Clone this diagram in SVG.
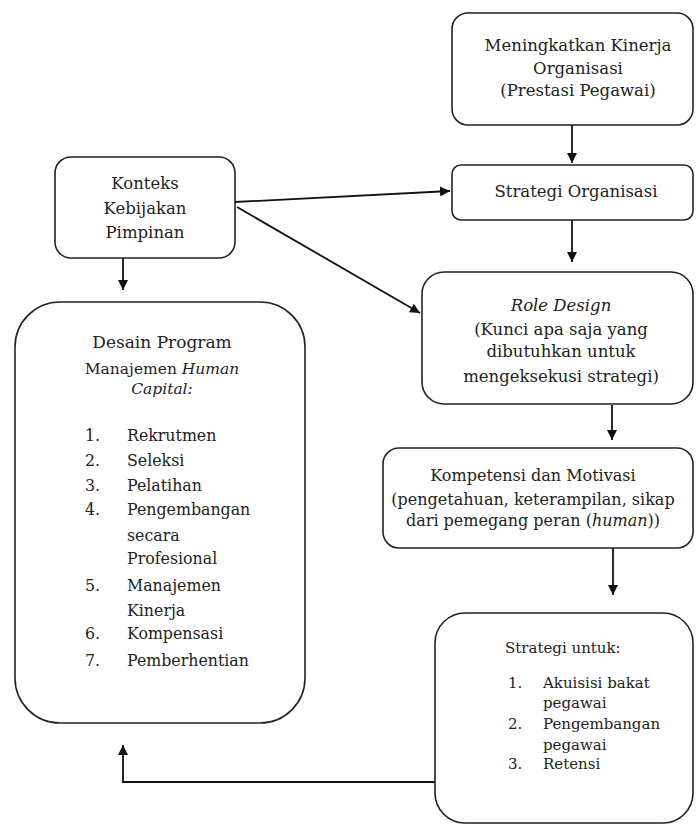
<svg xmlns="http://www.w3.org/2000/svg" width="698" height="825" viewBox="0 0 698 825">
<defs>
<marker id="ah" viewBox="0 0 10 10" refX="10" refY="5" markerWidth="10" markerHeight="10" markerUnits="userSpaceOnUse" orient="auto">
<path d="M0,0 L10,5 L0,10 z" fill="#111"/>
</marker>
<style>
.box{fill:#fff;stroke:#222;stroke-width:1.6}
.t{font-family:"DejaVu Serif","Liberation Serif",serif;font-size:16.5px;fill:#222;text-anchor:middle}
.l{font-family:"DejaVu Serif","Liberation Serif",serif;font-size:15px;fill:#222}
.i{font-style:italic}
.c{fill:none;stroke:#111;stroke-width:1.8}
</style>
</defs>
<rect width="698" height="825" fill="#fff"/>
<g id="connectors">
<path class="c" d="M572,125 V163" marker-end="url(#ah)"/>
<path class="c" d="M235,202 L450,191" marker-end="url(#ah)"/>
<path class="c" d="M237,207 L420,313" marker-end="url(#ah)"/>
<path class="c" d="M572,220 V262" marker-end="url(#ah)"/>
<path class="c" d="M123,258 V290" marker-end="url(#ah)"/>
<path class="c" d="M612,405 V440" marker-end="url(#ah)"/>
<path class="c" d="M613,548 V595" marker-end="url(#ah)"/>
<path class="c" d="M435,782 H123 V745" marker-end="url(#ah)"/>
</g>
<g id="n1">
<rect class="box" x="452" y="13" width="241" height="112" rx="16"/>
<text class="t" x="578" y="51">Meningkatkan Kinerja</text>
<text class="t" x="578" y="74">Organisasi</text>
<text class="t" x="578" y="96">(Prestasi Pegawai)</text>
</g>
<g id="n2">
<rect class="box" x="452" y="165" width="241" height="55" rx="9"/>
<text class="t" x="576" y="197">Strategi Organisasi</text>
</g>
<g id="n3">
<rect class="box" x="55" y="157" width="180" height="101" rx="16"/>
<text class="t" x="145" y="189">Konteks</text>
<text class="t" x="145" y="214">Kebijakan</text>
<text class="t" x="145" y="238">Pimpinan</text>
</g>
<g id="n4">
<rect class="box" x="422" y="272" width="271" height="132" rx="22"/>
<text class="t i" x="561" y="311">Role Design</text>
<text class="t" x="561" y="335">(Kunci apa saja yang</text>
<text class="t" x="561" y="357">dibutuhkan untuk</text>
<text class="t" x="561" y="382">mengeksekusi strategi)</text>
</g>
<g id="n5">
<rect class="box" x="383" y="448" width="310" height="100" rx="16"/>
<text class="t" x="533" y="481" style="font-size:16px">Kompetensi dan Motivasi</text>
<text class="t" x="533" y="505" style="font-size:16px">(pengetahuan, keterampilan, sikap</text>
<text class="t" x="533" y="526" style="font-size:16px">dari pemegang peran (<tspan class="i">human</tspan>))</text>
</g>
<g id="n6">
<rect class="box" x="15" y="302" width="290" height="421" rx="45"/>
<text class="t" x="162" y="348" style="font-size:17px">Desain Program</text>
<text class="t" x="162" y="374" style="font-size:15.5px">Manajemen <tspan class="i">Human</tspan></text>
<text class="t i" x="162" y="394" style="font-size:15.5px">Capital:</text>
<g class="l" style="font-size:15.8px">
<text x="85" y="441">1.</text><text x="127" y="441">Rekrutmen</text>
<text x="85" y="466">2.</text><text x="127" y="466">Seleksi</text>
<text x="85" y="491">3.</text><text x="127" y="491">Pelatihan</text>
<text x="85" y="515">4.</text><text x="127" y="515">Pengembangan</text>
<text x="127" y="541">secara</text>
<text x="127" y="564">Profesional</text>
<text x="85" y="591">5.</text><text x="127" y="591">Manajemen</text>
<text x="127" y="616">Kinerja</text>
<text x="85" y="639">6.</text><text x="127" y="639">Kompensasi</text>
<text x="85" y="666">7.</text><text x="127" y="666">Pemberhentian</text>
</g>
</g>
<g id="n7">
<rect class="box" x="435" y="613" width="258" height="210" rx="30"/>
<text class="l" x="505" y="653">Strategi untuk:</text>
<g class="l">
<text x="508" y="688">1.</text><text x="543" y="688">Akuisisi bakat</text>
<text x="543" y="708">pegawai</text>
<text x="508" y="729">2.</text><text x="543" y="729">Pengembangan</text>
<text x="543" y="750">pegawai</text>
<text x="508" y="769">3.</text><text x="543" y="769">Retensi</text>
</g>
</g>
</svg>
